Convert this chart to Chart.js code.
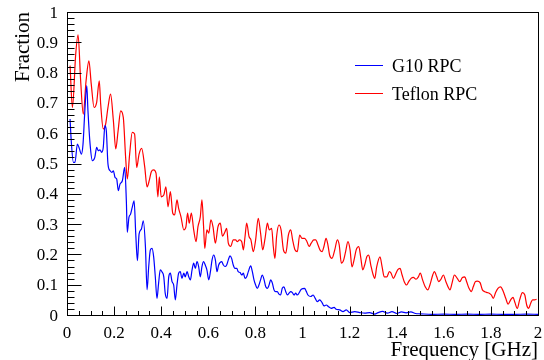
<!DOCTYPE html>
<html>
<head>
<meta charset="utf-8">
<script src="https://cdn.jsdelivr.net/npm/chart.js@4"></script>
<style>
  body { margin: 0; background: #fff; }
  canvas { display: block; }
</style>
</head>
<body>
<canvas id="myChart" width="544" height="360"></canvas>
<script>
// values
let teflonFreq = [0.013,0.023,0.037,0.047,0.058,0.069,0.081,0.093,0.103,0.115,0.126,0.137,0.143,0.154,0.164,0.174,0.185,0.197,0.207,0.217,0.228,0.239,0.249,0.256,0.266,0.277,0.287,0.296,0.306,0.317,0.330,0.340,0.350,0.358,0.368,0.378,0.386,0.392,0.400,0.411,0.420,0.429,0.439,0.449,0.457,0.467,0.474,0.484,0.496,0.505,0.512,0.519,0.528,0.538,0.548,0.556,0.566,0.573,0.580,0.585,0.594,0.602,0.611,0.620,0.630,0.641,0.651,0.660,0.671,0.678,0.685,0.695,0.706,0.716,0.723,0.732,0.742,0.749,0.756,0.763,0.773,0.781,0.791,0.801,0.812,0.822,0.831,0.841,0.851,0.859,0.869,0.876,0.883,0.890,0.900,0.909,0.919,0.929,0.940,0.950,0.958,0.968,0.978,0.988,0.998,1.009,1.019,1.028,1.037,1.048,1.056,1.066,1.074,1.083,1.091,1.100,1.108,1.115,1.125,1.137,1.148,1.156,1.165,1.175,1.183,1.193,1.202,1.210,1.219,1.228,1.239,1.247,1.256,1.264,1.273,1.281,1.290,1.298,1.307,1.315,1.329,1.338,1.347,1.358,1.369,1.376,1.386,1.394,1.404,1.414,1.423,1.432,1.442,1.451,1.461,1.471,1.482,1.492,1.500,1.510,1.521,1.532,1.541,1.553,1.560,1.570,1.578,1.588,1.598,1.609,1.621,1.626,1.635,1.645,1.657,1.668,1.679,1.689,1.697,1.707,1.717,1.725,1.734,1.742,1.754,1.764,1.774,1.785,1.793,1.802,1.810,1.820,1.830,1.841,1.853,1.863,1.873,1.884,1.894,1.902,1.912,1.922,1.934,1.944,1.952,1.960,1.969,1.977,1.986,1.994];
let teflonFrac = [0.823,0.685,0.861,0.925,0.773,0.663,0.773,0.839,0.762,0.685,0.702,0.773,0.696,0.614,0.630,0.685,0.729,0.641,0.548,0.608,0.674,0.652,0.520,0.449,0.531,0.603,0.597,0.487,0.531,0.550,0.489,0.423,0.446,0.473,0.479,0.468,0.390,0.456,0.390,0.396,0.423,0.357,0.407,0.336,0.330,0.380,0.352,0.324,0.281,0.291,0.336,0.303,0.336,0.281,0.242,0.291,0.324,0.380,0.291,0.220,0.281,0.270,0.314,0.291,0.237,0.291,0.303,0.260,0.275,0.286,0.237,0.226,0.248,0.248,0.242,0.248,0.242,0.215,0.259,0.303,0.259,0.248,0.209,0.248,0.319,0.270,0.215,0.253,0.303,0.281,0.286,0.226,0.187,0.259,0.297,0.281,0.215,0.204,0.264,0.281,0.248,0.215,0.209,0.264,0.253,0.253,0.242,0.226,0.237,0.248,0.248,0.231,0.215,0.209,0.226,0.253,0.231,0.198,0.187,0.215,0.248,0.231,0.171,0.182,0.209,0.242,0.215,0.159,0.182,0.215,0.226,0.192,0.149,0.165,0.192,0.198,0.165,0.138,0.121,0.159,0.192,0.159,0.126,0.126,0.143,0.138,0.121,0.132,0.149,0.154,0.132,0.110,0.099,0.110,0.121,0.124,0.118,0.126,0.138,0.116,0.093,0.083,0.099,0.132,0.143,0.126,0.110,0.118,0.132,0.110,0.088,0.083,0.105,0.132,0.121,0.110,0.124,0.126,0.110,0.088,0.077,0.093,0.110,0.112,0.107,0.083,0.077,0.074,0.072,0.066,0.055,0.074,0.088,0.093,0.077,0.055,0.036,0.050,0.058,0.041,0.022,0.050,0.074,0.066,0.033,0.022,0.039,0.050,0.050,0.052];

let g10Freq = [0.013,0.018,0.027,0.034,0.044,0.051,0.061,0.068,0.075,0.084,0.089,0.098,0.108,0.118,0.126,0.133,0.140,0.147,0.154,0.161,0.167,0.174,0.183,0.190,0.197,0.204,0.211,0.218,0.225,0.235,0.245,0.252,0.256,0.263,0.270,0.277,0.285,0.292,0.299,0.306,0.316,0.324,0.333,0.340,0.347,0.354,0.361,0.368,0.375,0.382,0.389,0.396,0.403,0.411,0.417,0.425,0.432,0.439,0.446,0.453,0.460,0.467,0.474,0.481,0.488,0.496,0.502,0.510,0.517,0.524,0.531,0.538,0.545,0.552,0.559,0.566,0.573,0.580,0.587,0.594,0.602,0.609,0.616,0.623,0.630,0.637,0.644,0.657,0.664,0.671,0.678,0.685,0.692,0.699,0.706,0.713,0.721,0.727,0.735,0.742,0.749,0.756,0.763,0.770,0.780,0.787,0.794,0.801,0.808,0.815,0.822,0.829,0.837,0.844,0.851,0.858,0.865,0.872,0.879,0.886,0.893,0.900,0.907,0.914,0.921,0.929,0.936,0.943,0.950,0.957,0.964,0.971,0.978,0.995,1.009,1.016,1.023,1.035,1.045,1.054,1.063,1.073,1.083,1.091,1.101,1.111,1.122,1.134,1.143,1.158,1.172,1.186,1.200,1.222,1.243,1.264,1.285,1.307,1.321,1.340,1.360,1.380,1.400,1.420,1.440,1.460,1.480,1.500,1.550,1.600,1.650,1.700,1.750,1.800,1.850,1.900,1.950,2.000];
let g10Frac = [0.647,0.575,0.504,0.504,0.564,0.553,0.531,0.564,0.663,0.757,0.674,0.564,0.509,0.520,0.553,0.542,0.545,0.537,0.553,0.625,0.608,0.498,0.476,0.471,0.476,0.454,0.449,0.410,0.432,0.443,0.487,0.377,0.273,0.322,0.333,0.355,0.377,0.267,0.179,0.267,0.284,0.311,0.226,0.083,0.160,0.215,0.220,0.192,0.126,0.055,0.105,0.149,0.143,0.126,0.072,0.055,0.126,0.138,0.110,0.099,0.050,0.099,0.138,0.143,0.121,0.138,0.126,0.143,0.126,0.116,0.149,0.171,0.154,0.176,0.160,0.126,0.160,0.176,0.165,0.149,0.116,0.143,0.182,0.198,0.182,0.143,0.165,0.176,0.165,0.160,0.165,0.182,0.195,0.187,0.165,0.154,0.154,0.143,0.140,0.132,0.138,0.121,0.126,0.143,0.162,0.143,0.116,0.099,0.088,0.099,0.116,0.132,0.116,0.093,0.088,0.099,0.116,0.105,0.083,0.077,0.077,0.069,0.066,0.088,0.093,0.077,0.066,0.072,0.077,0.074,0.066,0.072,0.066,0.085,0.088,0.078,0.066,0.061,0.066,0.055,0.044,0.050,0.041,0.030,0.033,0.027,0.022,0.025,0.019,0.017,0.011,0.017,0.008,0.011,0.008,0.006,0.008,0.003,0.008,0.012,0.006,0.011,0.005,0.010,0.007,0.010,0.005,0.004,0.002,0.003,0.002,0.003,0.002,0.003,0.002,0.002,0.003,0.002];

let xTickValues = [0, 0.2, 0.4, 0.6, 0.8, 1, 1.2, 1.4, 1.6, 1.8, 2];
let xTickLabels = ['0', '0.2', '0.4', '0.6', '0.8', '1', '1.2', '1.4', '1.6', '1.8', '2'];
let yTickValues = [0, 0.1, 0.2, 0.3, 0.4, 0.5, 0.6, 0.7, 0.8, 0.9, 1];
let yTickLabels = ['0', '0.1', '0.2', '0.3', '0.4', '0.5', '0.6', '0.7', '0.8', '0.9', '1'];

let seriesNames = ['G10 RPC', 'Teflon RPC'];
let xTitle = 'Frequency [GHz]';
let yTitle = 'Fraction';

function toPoints(xs, ys) {
    let pts = [];
    for (let i = 0; i < xs.length; i++) {
        pts.push({ x: xs[i], y: ys[i] });
    }
    return pts;
}

const FONT = '"Liberation Serif", "Times New Roman", serif';

// ROOT style frame: ticks pointing inside, labels outside
const rootFrame = {
    id: 'rootFrame',
    afterDatasetsDraw(chart) {
        let ctx = chart.ctx;
        let area = chart.chartArea;
        let xs = chart.scales.x;
        let ys = chart.scales.y;
        let L = Math.round(area.left) + 0.5;
        let R = Math.round(area.right) + 0.5;
        let T = Math.round(area.top) + 0.5;
        let B = Math.round(area.bottom) + 0.5;

        ctx.save();
        ctx.strokeStyle = '#000';
        ctx.lineWidth = 1;
        ctx.strokeRect(L, T, R - L, B - T);

        ctx.beginPath();
        for (let i = 0; i <= 50; i++) {
            let y = Math.round(ys.getPixelForValue(i / 50)) + 0.5;
            let len = (i % 5 == 0) ? 14 : 7;
            ctx.moveTo(L, y);
            ctx.lineTo(L + len, y);
        }
        for (let i = 0; i <= 40; i++) {
            let x = Math.round(xs.getPixelForValue(i / 20)) + 0.5;
            let len = (i % 4 == 0) ? 9 : 4.5;
            ctx.moveTo(x, B);
            ctx.lineTo(x, B - len);
        }
        ctx.stroke();

        ctx.fillStyle = '#000';
        ctx.font = '17px ' + FONT;
        ctx.textBaseline = 'alphabetic';
        ctx.textAlign = 'right';
        for (let i = 0; i < yTickValues.length; i++) {
            let y = ys.getPixelForValue(yTickValues[i]);
            ctx.fillText(yTickLabels[i], area.left - 9, y + 5.5);
        }
        ctx.textAlign = 'center';
        for (let i = 0; i < xTickValues.length; i++) {
            let x = xs.getPixelForValue(xTickValues[i]);
            ctx.fillText(xTickLabels[i], x, area.bottom + 22.5);
        }

        ctx.font = '21px ' + FONT;
        ctx.textAlign = 'right';
        ctx.fillText(xTitle, area.right, area.bottom + 41);

        ctx.save();
        ctx.translate(28.5, area.top);
        ctx.rotate(-Math.PI / 2);
        ctx.fillText(yTitle, 0, 0);
        ctx.restore();

        // legend
        ctx.font = '18px ' + FONT;
        ctx.textAlign = 'left';
        let legendY = [65, 93];
        chart.data.datasets.forEach((ds, i) => {
            ctx.strokeStyle = ds.borderColor;
            ctx.lineWidth = 1;
            ctx.beginPath();
            ctx.moveTo(355, legendY[i] + 0.5);
            ctx.lineTo(383, legendY[i] + 0.5);
            ctx.stroke();
            ctx.fillText(ds.label, 392, legendY[i] + 6.5);
        });
        ctx.restore();
    }
};

let ctx = document.getElementById('myChart');

let myChart = new Chart(ctx, {
    type: 'line',
    data: {
        datasets: [{
            label: seriesNames[0],
            data: toPoints(g10Freq, g10Frac),
            borderColor: '#0000ff',
            borderWidth: 1.2,
            pointRadius: 0,
            cubicInterpolationMode: 'monotone'
        }, {
            label: seriesNames[1],
            data: toPoints(teflonFreq, teflonFrac),
            borderColor: '#ff0000',
            borderWidth: 1.2,
            pointRadius: 0,
            cubicInterpolationMode: 'monotone'
        }]
    },
    options: {
        responsive: false,
        animation: false,
        devicePixelRatio: 1,
        layout: {
            padding: { left: 67, right: 6, top: 12, bottom: 45 }
        },
        scales: {
            x: { type: 'linear', min: 0, max: 2, display: false },
            y: { type: 'linear', min: 0, max: 1, display: false }
        },
        plugins: {
            legend: { display: false },
            tooltip: { enabled: false }
        }
    },
    plugins: [rootFrame]
});
</script>
</body>
</html>
